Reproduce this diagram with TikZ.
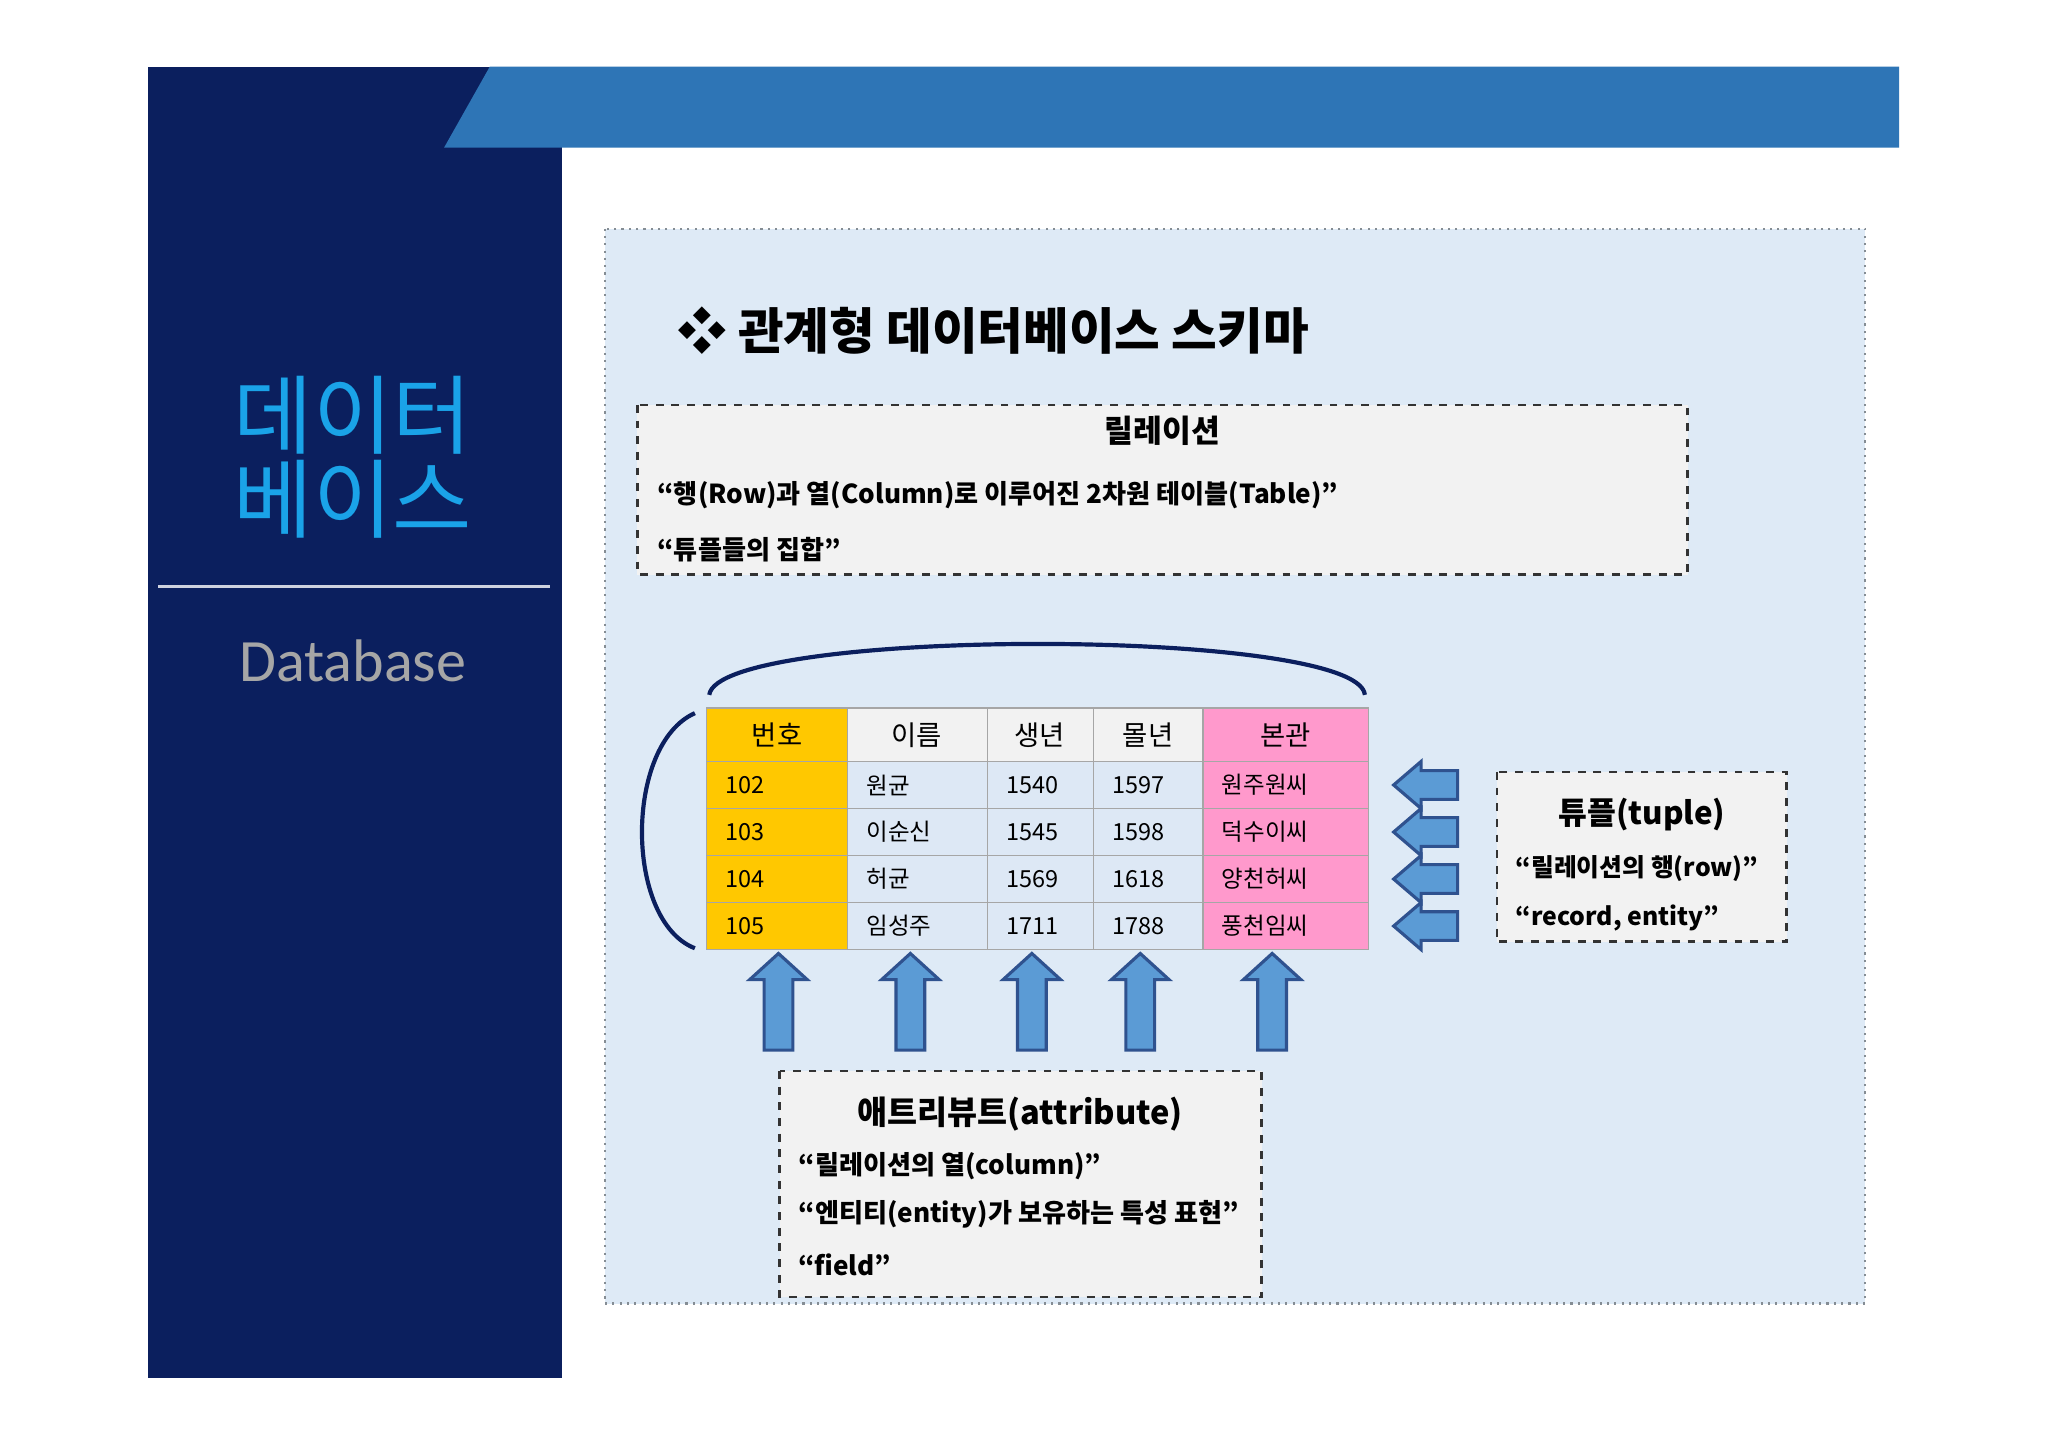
\documentclass[tikz,border=0pt]{standalone}
\usepackage{fontspec}
\setmainfont{Noto Sans CJK KR}
\newfontfamily\kr{Noto Sans CJK KR}
\newfontfamily\lat{Carlito}
\definecolor{navy}{HTML}{0B1F5E}
\definecolor{topblue}{HTML}{2E75B6}
\definecolor{panel}{HTML}{DEEAF6}
\definecolor{cyantxt}{HTML}{1AA3E8}
\definecolor{yel}{HTML}{FFC800}
\definecolor{pnk}{HTML}{FF99CC}
\definecolor{cellbg}{HTML}{DDE8F5}
\definecolor{arrfill}{HTML}{5B9BD5}
\definecolor{arrline}{HTML}{2F528F}
\tikzset{
 dbox/.style={draw=black!80,dashed,line width=1pt,fill=black!5},
 cell/.style={draw=black!35,line width=0.5pt},
 arr/.style={fill=arrfill,draw=arrline,line width=1.2pt},
 txt/.style={font=\kr\fontsize{10}{12}\selectfont\bfseries,anchor=west,inner sep=0},
 ctxt/.style={font=\kr\fontsize{9}{11}\selectfont,anchor=west,inner sep=0},
 htxt/.style={font=\kr\fontsize{10.5}{12}\selectfont,inner sep=0},
}
\begin{document}
\begin{tikzpicture}[x=0.5pt,y=-0.5pt]
\useasboundingbox (0,0) rectangle (1568,1109);
\fill[white] (0,0) rectangle (1568,1109);
\fill[navy] (113,51) rectangle (430,1055);
\fill[topblue] (340,113) -- (375,51) -- (1454,51) -- (1454,113) -- cycle;
\node[text=cyantxt,font=\kr\fontsize{33}{36}\selectfont,align=center,inner sep=0] (t1) at (270,350) {데이터\\[-4pt]베이스};
\draw[white!80!navy,line width=0.8pt] (121,449) -- (421,449);
\node[text=black!35,font=\lat\fontsize{23}{26}\selectfont] (db) at (270,506) {Database};
\draw[panel!60!black,dotted,fill=panel,line width=0.8pt] (463,175) rectangle (1428,998);
\node[font=\kr\fontsize{19}{22}\selectfont\bfseries,anchor=west,inner sep=0] (title) at (518,253) {❖ 관계형 데이터베이스 스키마};
% relation box
\draw[dbox] (488,310) rectangle (1292,440);
\node[htxt,font=\kr\fontsize{12}{14}\selectfont\bfseries] (rel) at (890,330) {릴레이션};
\node[txt] (r1) at (503,379) {“행(Row)과 열(Column)로 이루어진 2차원 테이블(Table)”};
\node[txt] (r2) at (503,421) {“튜플들의 집합”};
% arcs
\coordinate (a1) at (543,532); \coordinate (a2) at (1045,532);
\draw[navy,line width=1.6pt] (a1) .. controls (550,480) and (1040,480) .. (a2);
\coordinate (b1) at (532,546); \coordinate (b2) at (532,726);
\draw[navy,line width=1.6pt] (b1) .. controls (478,570) and (478,705) .. (b2);
% table
\def\xs{{541,649,756,837,921,1048}}
\def\ys{{542,583,619,655,691,727}}
\foreach \i/\xa/\xb in {0/541/649,1/649/756,2/756/837,3/837/921,4/921/1048}{
 \foreach \j/\ya/\yb in {0/542/583,1/583/619,2/619/655,3/655/691,4/691/727}{
  \ifnum\i=0 \def\cc{yel}\else\ifnum\i=4 \def\cc{pnk}\else\ifnum\j=0 \def\cc{black!5}\else\def\cc{cellbg}\fi\fi\fi
  \draw[cell,fill=\cc] (\xa,\ya) rectangle (\xb,\yb);
 }}
\foreach \n/\x/\t in {h1/595/번호,h2/702/이름,h3/796/생년,h4/879/몰년,h5/984/본관}
 \node[htxt] (\n) at (\x,563) {\t};
\foreach \y/\a/\b/\c/\d/\e in {601/102/원균/1540/1597/원주원씨,637/103/이순신/1545/1598/덕수이씨,673/104/허균/1569/1618/양천허씨,709/105/임성주/1711/1788/풍천임씨}{
 \node[ctxt] at (555,\y) {\a};
 \node[ctxt] at (663,\y) {\b};
 \node[ctxt] at (770,\y) {\c};
 \node[ctxt] at (851,\y) {\d};
 \node[ctxt] at (935,\y) {\e};
}
% up arrows
\foreach \x in {596,697,790,873,974}
 \draw[arr] (\x-11,804) -- (\x-11,750) -- (\x-22,750) -- (\x,730) -- (\x+22,750) -- (\x+11,750) -- (\x+11,804) -- cycle;
% left arrows
\foreach \y in {601,637,673,709}
 \draw[arr] (1116,\y-11) -- (1088,\y-11) -- (1088,\y-18) -- (1067,\y) -- (1088,\y+18) -- (1088,\y+11) -- (1116,\y+11) -- cycle;
% tuple box
\draw[dbox] (1146,591) rectangle (1368,721);
\node[htxt,font=\kr\fontsize{12}{14}\selectfont\bfseries] (tp) at (1257,624) {튜플(tuple)};
\node[txt,font=\kr\fontsize{9.5}{11}\selectfont\bfseries] (tp1) at (1160,665) {“릴레이션의 행(row)”};
\node[txt,font=\kr\fontsize{9.5}{11}\selectfont\bfseries] (tp2) at (1160,703) {“record, entity”};
% attribute box
\draw[dbox] (597,820) rectangle (966,993);
\node[htxt,font=\kr\fontsize{12.5}{14}\selectfont\bfseries] (at) at (781,853) {애트리뷰트(attribute)};
\node[txt] (at1) at (611,893) {“릴레이션의 열(column)”};
\node[txt] (at2) at (611,930) {“엔티티(entity)가 보유하는 특성 표현”};
\node[txt] (at3) at (611,968) {“field”};
\end{tikzpicture}
\end{document}
